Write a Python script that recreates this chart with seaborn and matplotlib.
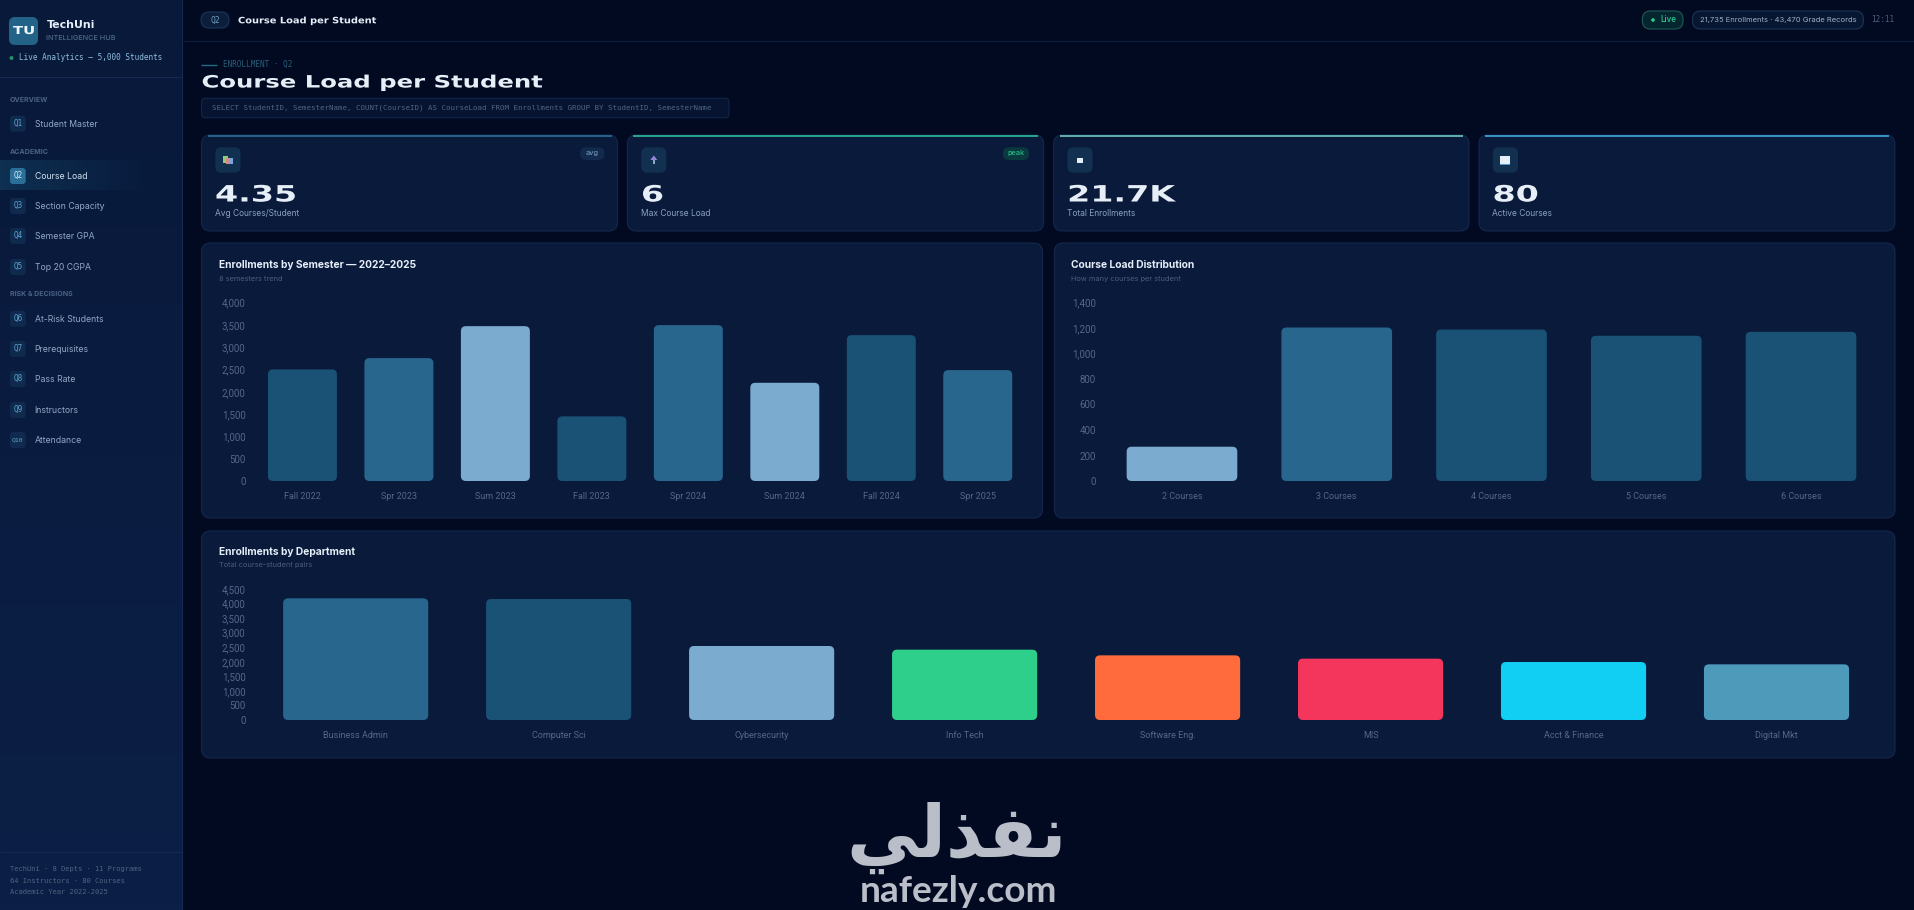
import matplotlib
matplotlib.use('Agg')
import matplotlib.pyplot as plt
import numpy as np
import seaborn as sns
from matplotlib.patches import FancyBboxPatch, Rectangle, Circle, Polygon
from matplotlib.patheffects import AbstractPathEffect
from matplotlib.transforms import Affine2D

# Chart data
semesters = ['Fall 2022', 'Spr 2023', 'Sum 2023', 'Fall 2023', 'Spr 2024', 'Sum 2024', 'Fall 2024', 'Spr 2025']
semester_enrollments = [2500, 2754, 3470, 1448, 3493, 2201, 3269, 2485]
semester_ticks = [0, 500, 1000, 1500, 2000, 2500, 3000, 3500, 4000]

load_labels = ['2 Courses', '3 Courses', '4 Courses', '5 Courses', '6 Courses']
load_students = [269, 1204, 1188, 1139, 1170]
load_ticks = [0, 200, 400, 600, 800, 1000, 1200, 1400]

departments = ['Business Admin', 'Computer Sci', 'Cybersecurity', 'Info Tech', 'Software Eng.', 'MIS', 'Acct & Finance', 'Digital Mkt']
department_enrollments = [4179, 4156, 2542, 2416, 2221, 2107, 1992, 1912]
department_ticks = [0, 500, 1000, 1500, 2000, 2500, 3000, 3500, 4000, 4500]

# Colours
BG = '#020a22'
PANEL = '#091a3b'
BORDER = '#15284c'
DARK = '#1a5276'
MID = '#28668e'
LIGHT = '#7cabd0'
semester_colors = [DARK, MID, LIGHT, DARK, MID, LIGHT, DARK, MID]
load_colors = [LIGHT, MID, DARK, DARK, DARK]
department_colors = [MID, DARK, LIGHT, '#2ecf8a', '#ff6b3d', '#f5365c', '#10cff3', '#4d9aba']

# Sidebar and cards content
nav_sections = [('OVERVIEW', 99.5), ('ACADEMIC', 151.5), ('RISK & DECISIONS', 294.5)]
nav_items = [('Q1', 'Student Master', 123.7), ('Q2', 'Course Load', 176), ('Q3', 'Section Capacity', 206),
             ('Q4', 'Semester GPA', 236), ('Q5', 'Top 20 CGPA', 267), ('Q6', 'At-Risk Students', 318.7),
             ('Q7', 'Prerequisites', 349), ('Q8', 'Pass Rate', 379), ('Q9', 'Instructors', 410),
             ('Q10', 'Attendance', 440)]
kpi_values = ['4.35', '6', '21.7K', '80']
kpi_labels = ['Avg Courses/Student', 'Max Course Load', 'Total Enrollments', 'Active Courses']
kpi_lefts = [201.5, 627.4, 1053.6, 1479]
kpi_rights = [617.5, 1043.7, 1469, 1894.8]
kpi_accents = ['#2a6f97', '#2bbf9a', '#6fc7c0', '#3fa9dc']

W, H = 1914, 910
MONO = 'DejaVu Sans Mono'
BODY = 'Inter'
WIDE = 'DejaVu Sans'

sns.set_theme(style='white')
plt.rcParams['font.family'] = ['Inter', 'DejaVu Sans']
plt.rcParams['axes.unicode_minus'] = False

fig = plt.figure(figsize=(W / 100, H / 100), dpi=100, facecolor=BG)

# full page axes in pixel coordinates for the dashboard around the charts
page = fig.add_axes([0, 0, 1, 1])
page.set_xlim(0, W)
page.set_ylim(H, 0)
page.axis('off')


class Widen(AbstractPathEffect):
    # the reference headings use an extended face, stretch the glyphs sideways
    def __init__(self, sx):
        super().__init__()
        self.sx = sx

    def draw_path(self, renderer, gc, tpath, affine, rgbFace=None):
        renderer.draw_path(gc, tpath, Affine2D().scale(self.sx, 1) + affine, rgbFace)


def label(x, y, s, px, color, family=BODY, weight='normal', ha='left', zorder=5, stretch=None):
    t = page.text(x, y, s, fontsize=px * 0.72, color=color, family=family, weight=weight,
                  ha=ha, va='center', zorder=zorder)
    if stretch:
        t.set_path_effects([Widen(stretch)])
    return t


def box(x0, y0, x1, y1, r, fc, ec='none', lw=0.8, zorder=2):
    p = FancyBboxPatch((x0, y0), x1 - x0, y1 - y0, boxstyle=f'round,pad=0,rounding_size={r}',
                       fc=fc, ec=ec, lw=lw, zorder=zorder)
    page.add_patch(p)
    return p


def hline(x0, x1, y, color, lw=0.8, zorder=3):
    page.plot([x0, x1], [y, y], color=color, lw=lw, zorder=zorder, solid_capstyle='butt')


# sidebar, slightly lighter towards the bottom
side = np.linspace([8 / 255, 25 / 255, 58 / 255], [12 / 255, 31 / 255, 70 / 255], 200).reshape(200, 1, 3)
page.imshow(side, extent=[0, 182, H, 0], aspect='auto', zorder=1)
page.plot([182, 182], [0, H], color='#142a50', lw=0.8, zorder=3)
hline(0, 182, 76.5, '#142a50')
hline(0, 182, 852, '#142a50')
hline(182, W, 41, '#0e1d3c')

box(9, 17, 38, 45, 6, '#226387')
label(13, 31, 'TU', 11, '#eef5fb', family=WIDE, weight='bold', stretch=1.35)
label(46.5, 25, 'TechUni', 11, '#e6eef8', family=WIDE, weight='bold')
label(46.5, 38.5, 'INTELLIGENCE HUB', 7.3, '#4e6a88', weight='medium')
page.add_patch(Circle((11.5, 58), 2, fc='#2e8b6a', ec='none', zorder=4))
label(18.7, 58, 'Live Analytics — 5,000 Students', 7.6, '#8fbfdf', family=MONO)

for name, y in nav_sections:
    label(9.5, y, name, 7, '#4b6285', weight='bold')

# soft highlight behind the active row
glow = np.linspace(0, 1, 100).reshape(1, -1)
page.imshow(np.dstack([np.full((1, 100, 3), [0.06, 0.2, 0.33]), (1 - glow) * 0.9]),
            extent=[0, 150, 190, 160], aspect='auto', zorder=2)
page.set_xlim(0, W)
page.set_ylim(H, 0)

for code, name, y in nav_items:
    active = code == 'Q2'
    box(10, y - 8, 25.7, y + 8, 3, '#2a6f97' if active else '#0f2a4d', zorder=3)
    label(17.9, y - 0.5, code, 6.4 if code == 'Q10' else 7.6, '#d5e8f5' if active else '#5ba3d0', family=MONO, ha='center')
    label(34.7, y + 0.7, name, 8.7, '#d3e2f2' if active else '#93a8c6')

footer = ['TechUni · 8 Depts · 11 Programs', '64 Instructors · 80 Courses', 'Academic Year 2022-2025']
for line, y in zip(footer, [869, 881, 892]):
    label(10, y, line, 7.2, '#4e6480', family=MONO)

# top bar
box(201, 12, 229, 28, 8, '#0b1e3c', ec='#1c3557')
label(215, 20, 'Q2', 8, '#6f9dbd', family=MONO, ha='center')
label(238, 20.8, 'Course Load per Student', 8.8, '#e6eef8', family=WIDE, weight='bold', stretch=1.12)
box(1642.4, 11, 1683, 29, 8, '#06262f', ec='#1d5a55')
page.add_patch(Circle((1653, 20), 1.8, fc='#2ecc8f', ec='none', zorder=4))
label(1660, 20, 'Live', 8, '#2ecc8f', weight='medium')
box(1692.5, 11, 1863.3, 29, 8, '#071631', ec='#1c3557')
label(1778, 20, '21,735 Enrollments · 43,470 Grade Records', 7.6, '#9bb0cc', ha='center')
label(1871.5, 20, '12:11', 7.7, '#4d6078', family=MONO)

# page heading
hline(201, 217, 64.5, '#1e6e7e', lw=1)
label(223, 64.5, 'ENROLLMENT · Q2', 7.6, '#2a5f78', family=MONO)
label(201.5, 82.5, 'Course Load per Student', 17, '#e6eef8', family=WIDE, weight='bold', stretch=1.43)
box(201.5, 98.3, 729, 117.7, 4, '#071431', ec='#12254a')
label(211.8, 108,
      'SELECT StudentID, SemesterName, COUNT(CourseID) AS CourseLoad FROM Enrollments GROUP BY StudentID, SemesterName',
      7.5, '#4e6580', family=MONO)

# KPI cards
for left, right, value, text, accent in zip(kpi_lefts, kpi_rights, kpi_values, kpi_labels, kpi_accents):
    box(left, 135, right, 231, 9, PANEL, ec=BORDER)
    page.plot([left + 6, right - 6], [135.5, 135.5], color=accent, lw=1.2, zorder=4, solid_capstyle='butt')
    box(left + 13.8, 147.3, left + 39, 172.7, 6, '#12304f', zorder=3)
    label(left + 13.5, 195.5, value, 22.5, '#e6eef8', family=WIDE, weight='bold', stretch=1.48)
    label(left + 13.5, 213, text, 8.4, '#8ba0c0')

# little icons inside the KPI tiles
ix = kpi_lefts[0] + 26.4
page.add_patch(Rectangle((ix - 5, 156), 5, 7, fc='#8ccf7a', ec='none', zorder=4))
page.add_patch(Rectangle((ix - 2, 158), 4, 6, fc='#d88a8a', ec='none', zorder=5))
page.add_patch(Rectangle((ix + 1, 158), 4, 6, fc='#7aa6e0', ec='none', zorder=5))
ix = kpi_lefts[1] + 26.4
page.add_patch(Polygon([(ix - 3.5, 160), (ix, 155.5), (ix + 3.5, 160)], fc='#9a86d8', ec='none', zorder=4))
page.add_patch(Rectangle((ix - 1.2, 160), 2.4, 4, fc='#8fa6c8', ec='none', zorder=4))
ix = kpi_lefts[2] + 26.4
page.add_patch(Rectangle((ix - 3, 158), 6, 5, fc='#e6eef8', ec='none', zorder=4))
ix = kpi_lefts[3] + 26.4
page.add_patch(Rectangle((ix - 5, 156), 10, 8, fc='#e6eef8', ec='none', zorder=4))
page.add_patch(Rectangle((ix - 5, 164), 10, 1.2, fc='#4d9ad0', ec='none', zorder=4))

box(580, 147.3, 604.5, 160, 6, '#122a4c', zorder=3)
label(592.2, 153.5, 'avg', 7.4, '#7ea0c8', ha='center')
box(1003, 147.3, 1029, 160, 6, '#0a3a3f', zorder=3)
label(1016, 153.5, 'peak', 7.4, '#2ecc8f', ha='center')

# chart panels
box(201.6, 243, 1042.5, 518, 9, PANEL, ec=BORDER)
box(1054.4, 243, 1895, 518, 9, PANEL, ec=BORDER)
box(201.6, 531, 1895, 758, 9, PANEL, ec=BORDER)

label(218.6, 265, 'Enrollments by Semester — 2022–2025', 10.2, '#e6eef8', weight='bold')
label(218.6, 278.7, '8 semesters trend', 7.4, '#4c5f80')
label(1071, 265, 'Course Load Distribution', 10.2, '#e6eef8', weight='bold')
label(1071, 278.7, 'How many courses per student', 7.4, '#4c5f80')
label(218.6, 551.7, 'Enrollments by Department', 10.2, '#e6eef8', weight='bold')
label(218.6, 565, 'Total course-student pairs', 7.4, '#4c5f80')


def bar_chart(x0, x1, ytop, ybottom, cats, vals, colors, ticks):
    ax = fig.add_axes([x0 / W, 1 - ybottom / H, (x1 - x0) / W, (ybottom - ytop) / H], zorder=3)
    ax.patch.set_alpha(0)
    sns.barplot(x=cats, y=vals, hue=cats, palette=colors, order=cats, hue_order=cats, legend=False,
                dodge=False, width=0.715, saturation=1, ax=ax)
    ax.set_xlim(-0.5, len(cats) - 0.5)
    ax.set_ylim(ticks[0], ticks[-1])
    ax.set_yticks(ticks)
    ax.set_yticklabels([f'{t:,}' for t in ticks])
    ax.tick_params(axis='y', length=0, pad=6.3, labelsize=7, labelcolor='#55678a')
    ax.tick_params(axis='x', length=0, pad=7.8, labelsize=6.5, labelcolor='#55678a')
    for tick in ax.get_xticklabels() + ax.get_yticklabels():
        tick.set_family('Roboto')
    ax.set_xlabel('')
    ax.set_ylabel('')
    ax.grid(False)
    sns.despine(ax=ax, left=True, bottom=True)

    # swap the square bars for rounded ones, same size and colour
    px_x = (x1 - x0) / len(cats)
    px_y = (ybottom - ytop) / (ticks[-1] - ticks[0])
    for bar in list(ax.patches):
        rounded = FancyBboxPatch((bar.get_x(), bar.get_y()), bar.get_width(), bar.get_height(),
                                 boxstyle=f'round,pad=0,rounding_size={5 / px_x}',
                                 mutation_aspect=px_x / px_y, fc=bar.get_facecolor(), ec='none')
        ax.add_patch(rounded)
        bar.set_visible(False)
    return ax


bar_chart(254.2, 1026, 302.5, 481, semesters, semester_enrollments, semester_colors, semester_ticks)
bar_chart(1104.6, 1878.4, 302.5, 481, load_labels, load_students, load_colors, load_ticks)
bar_chart(254.2, 1878, 589, 720, departments, department_enrollments, department_colors, department_ticks)

# watermark, glyphs given in visual order with their joined forms
label(957, 838, '\ufef2\ufedf\ufeac\ufed4\ufee7', 72, '#b9bec8', family=WIDE, weight='bold', ha='center')
label(958, 891, 'nafezly.com', 37, '#b9bec8', family='Lato', weight='bold', ha='center')

fig.savefig('out.png', dpi=100, facecolor=BG)
